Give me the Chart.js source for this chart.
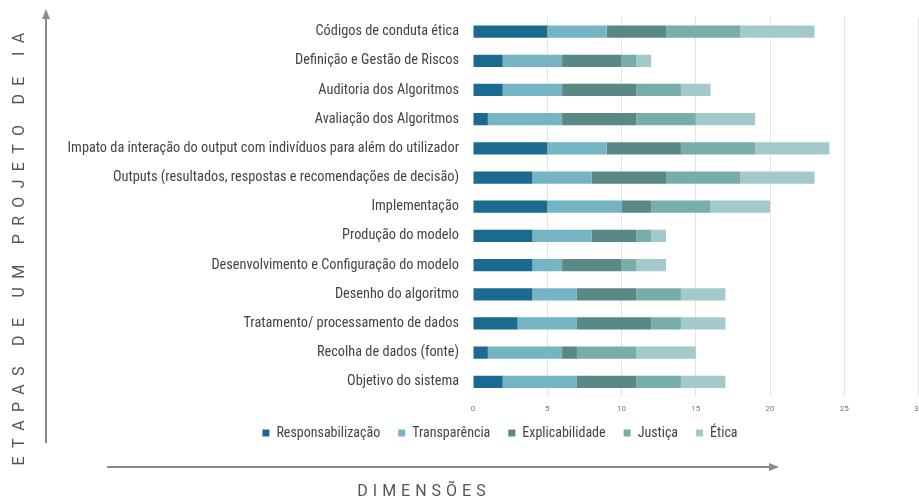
<!DOCTYPE html>
<html>
<head>
<meta charset="utf-8">
<script src="https://cdn.jsdelivr.net/npm/chart.js@4/dist/chart.umd.min.js"></script>
<style>
  html, body { margin:0; padding:0; width:919px; height:498px; overflow:hidden; background:#fff; }
  #wrap { position:absolute; left:0; top:0; width:931px; height:464px; }
  .ttl { position:absolute; font-family:Roboto, 'DejaVu Sans', sans-serif; color:#555; font-size:16px; white-space:nowrap; }
  #ytitle { left:18px; top:245px; letter-spacing:8.3px; transform:translate(-50%,-50%) rotate(-90deg); }
  #xtitle { left:424px; top:490px; letter-spacing:5px; transform:translate(-50%,-50%); }
  svg { position:absolute; left:0; top:0; }
</style>
</head>
<body>
<div id="wrap"><canvas id="c" width="931" height="464"></canvas></div>
<svg width="919" height="498">
  <line x1="46" y1="16" x2="46" y2="443" stroke="#8a8a8a" stroke-width="2"/>
  <polygon points="46,9 42,19 50,19" fill="#8a8a8a"/>
  <line x1="107" y1="467" x2="772" y2="467" stroke="#8a8a8a" stroke-width="2"/>
  <polygon points="779,467 769,463 769,471" fill="#8a8a8a"/>
</svg>
<div class="ttl" id="ytitle">ETAPAS DE UM PROJETO DE IA</div>
<div class="ttl" id="xtitle">DIMENSÕES</div>
<script>
const categories = [
  "Códigos de conduta ética",
  "Definição e Gestão de Riscos",
  "Auditoria dos Algoritmos",
  "Avaliação dos Algoritmos",
  "Impato da interação do output com indivíduos para além do utilizador",
  "Outputs (resultados, respostas e recomendações de decisão)",
  "Implementação",
  "Produção do modelo",
  "Desenvolvimento e Configuração do modelo",
  "Desenho do algoritmo",
  "Tratamento/ processamento de dados",
  "Recolha de dados (fonte)",
  "Objetivo do sistema"
];
const seriesNames = ["Responsabilização", "Transparência", "Explicabilidade", "Justiça", "Ética"];
const responsabilizacao = [5, 2, 2, 1, 5, 4, 5, 4, 4, 4, 3, 1, 2];
const transparencia     = [4, 4, 4, 5, 4, 4, 5, 4, 2, 3, 4, 5, 5];
const explicabilidade   = [4, 4, 5, 5, 5, 5, 2, 3, 4, 4, 5, 1, 4];
const justica           = [5, 1, 3, 4, 5, 5, 4, 1, 1, 3, 2, 4, 3];
const etica             = [5, 1, 2, 4, 5, 5, 4, 1, 2, 3, 3, 4, 3];
const xTicks = [0, 5, 10, 15, 20, 25, 30];

const colors = ["#1b6a8f", "#74b4c3", "#5a8985", "#77adaa", "#a3c9cd"];
const seriesValues = [responsabilizacao, transparencia, explicabilidade, justica, etica];

const labelFont = "'Roboto Condensed', Roboto, sans-serif";
const LEGEND_PAD = 18, LEGEND_FONT = 14;

const legendPlacer = {
  id: 'legendPlacer',
  afterLayout(chart) {
    const lg = chart.legend;
    if (!lg) return;
    const h = lg.bottom - lg.top;
    lg.top = 433 - LEGEND_FONT / 2 - LEGEND_PAD;
    lg.bottom = lg.top + h;
    const dx = 500 - (lg.left + lg.right) / 2;
    lg.left += dx; lg.right += dx;
  }
};

new Chart(document.getElementById('c'), {
  type: 'bar',
  data: {
    labels: categories,
    datasets: seriesNames.map((n, i) => ({
      label: n,
      data: seriesValues[i],
      backgroundColor: colors[i],
      borderWidth: 0,
      categoryPercentage: 0.42,
      barPercentage: 1
    }))
  },
  plugins: [legendPlacer],
  options: {
    indexAxis: 'y',
    responsive: false,
    animation: false,
    devicePixelRatio: 1,
    layout: { padding: { top: 17, left: 0, right: 0, bottom: 0 } },
    plugins: {
      tooltip: { enabled: false },
      legend: {
        position: 'bottom',
        labels: {
          boxWidth: 7, boxHeight: 7, padding: LEGEND_PAD,
          color: '#444',
          font: { family: labelFont, size: LEGEND_FONT }
        }
      }
    },
    scales: {
      x: {
        stacked: true,
        min: 0, max: 30,
        afterBuildTicks: s => { s.ticks = xTicks.map(v => ({ value: v })); },
        grid: {
          drawTicks: false,
          color: c => (c.tick && c.tick.value === 0) ? 'rgba(0,0,0,0)' : '#e3e3e3'
        },
        border: { display: false },
        ticks: { padding: 8, color: '#777', font: { family: 'Roboto', size: 8 } }
      },
      y: {
        stacked: true,
        grid: { display: false },
        border: { display: false },
        afterFit: s => { s.width = 473; },
        ticks: { padding: 6, color: '#444', font: { family: labelFont, size: 14.3 } }
      }
    }
  }
});
</script>
</body>
</html>
